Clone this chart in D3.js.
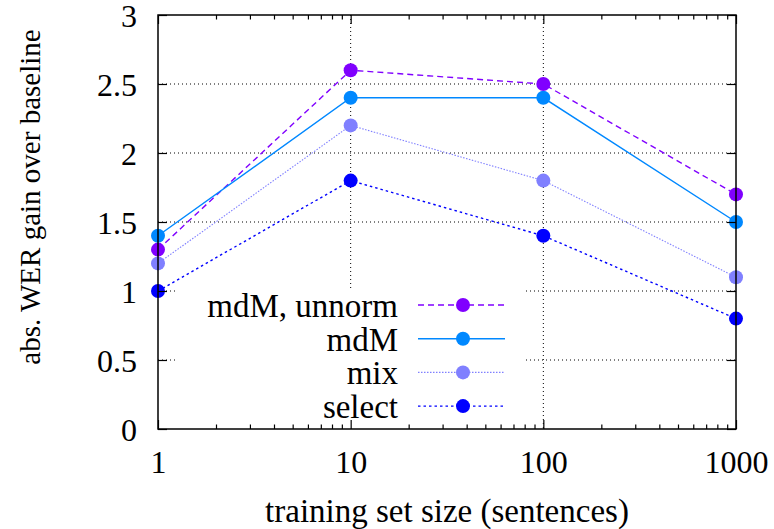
<!DOCTYPE html>
<html>
<head>
<meta charset="utf-8">
<script src="https://cdn.jsdelivr.net/npm/d3@7"></script>
<style>
  body { margin: 0; background: #fff; }
  .grid line { stroke: #000; stroke-width: 1; stroke-dasharray: 1,3; }
  .axis path { display: none; }
  .axis line { stroke: #000; stroke-width: 1.2; }
</style>
</head>
<body>
<div id="chart"></div>
<script>
var sizes = [1, 10, 100, 1000];
var seriesNames = ["mdM, unnorm", "mdM", "mix", "select"];
var unnorm = [1.3, 2.6, 2.5, 1.7];
var mdm = [1.4, 2.4, 2.4, 1.5];
var mix = [1.2, 2.2, 1.8, 1.1];
var select = [1.0, 1.8, 1.4, 0.8];
var yTicks = [0, 0.5, 1, 1.5, 2, 2.5, 3];
var xTicks = [1, 10, 100, 1000];

var w = 774, h = 529;
var plotLeft = 158, plotRight = 736, plotTop = 15, plotBottom = 429;
var serif = "'Liberation Serif'";

var colors = ["#8000ff", "#0088ff", "#8080ff", "#0000ff"];
var dashes = ["6,4", null, "1.5,1.5", "2.5,3"];
var widths = [1.4, 1.4, 1.1, 1.4];

var data = [unnorm, mdm, mix, select].map(function(vals, i) {
    return {name: seriesNames[i], values: vals.map(function(v, j) { return {x: sizes[j], y: v}; })};
});

var xScale = d3.scaleLog().domain([1, 1000]).range([plotLeft, plotRight]);
var yScale = d3.scaleLinear().domain([0, 3]).range([plotBottom, plotTop]);

var svg = d3.select("#chart").append("svg")
    .attr("width", w)
    .attr("height", h);

// gridlines
svg.append("g")
    .attr("class", "grid")
    .selectAll("line")
    .data(yTicks.filter(function(d) { return d > 0 && d < 3; }))
    .enter().append("line")
    .attr("x1", plotLeft).attr("x2", plotRight)
    .attr("y1", function(d) { return yScale(d); })
    .attr("y2", function(d) { return yScale(d); });

svg.append("g")
    .attr("class", "grid")
    .selectAll("line")
    .data([10, 100])
    .enter().append("line")
    .attr("y1", plotTop).attr("y2", plotBottom)
    .attr("x1", function(d) { return xScale(d); })
    .attr("x2", function(d) { return xScale(d); });

// series
var line = d3.line()
    .x(function(d) { return xScale(d.x); })
    .y(function(d) { return yScale(d.y); });

data.forEach(function(s, i) {
    svg.append("path")
        .datum(s.values)
        .attr("d", line)
        .attr("fill", "none")
        .attr("stroke", colors[i])
        .attr("stroke-width", widths[i])
        .attr("stroke-dasharray", dashes[i]);
});
data.forEach(function(s, i) {
    svg.selectAll(".pt" + i)
        .data(s.values)
        .enter().append("circle")
        .attr("class", "pt" + i)
        .attr("cx", function(d) { return xScale(d.x); })
        .attr("cy", function(d) { return yScale(d.y); })
        .attr("r", 7)
        .attr("fill", colors[i]);
});

// legend (opaque box)
svg.append("rect")
    .attr("x", 176).attr("y", 288)
    .attr("width", 350).attr("height", plotBottom - 288)
    .attr("fill", "#fff");

var legend = svg.append("g");
seriesNames.forEach(function(name, i) {
    var ly = 305 + i * 33.7;
    legend.append("text")
        .attr("x", 398).attr("y", ly + 12)
        .attr("text-anchor", "end")
        .style("font-family", serif)
        .style("font-size", "33px")
        .text(name);
    legend.append("line")
        .attr("x1", 418).attr("x2", 505)
        .attr("y1", ly).attr("y2", ly)
        .attr("stroke", colors[i])
        .attr("stroke-width", widths[i])
        .attr("stroke-dasharray", dashes[i]);
    legend.append("circle")
        .attr("cx", 463).attr("cy", ly).attr("r", 7)
        .attr("fill", colors[i]);
});

// axes
var minor = [];
[1, 10, 100].forEach(function(d) {
    for (var k = 2; k <= 9; k++) minor.push(d * k);
});

var xAxis = d3.axisBottom(xScale).tickValues(xTicks)
    .tickSizeInner(-9).tickSizeOuter(0).tickPadding(21)
    .tickFormat(d3.format("d"));
var xMinor = d3.axisBottom(xScale).tickValues(minor)
    .tickSizeInner(-4.5).tickSizeOuter(0).tickFormat("");
var xTop = d3.axisTop(xScale).tickValues(xTicks)
    .tickSizeInner(-9).tickSizeOuter(0).tickFormat("");
var xTopMinor = d3.axisTop(xScale).tickValues(minor)
    .tickSizeInner(-4.5).tickSizeOuter(0).tickFormat("");
var yAxis = d3.axisLeft(yScale).tickValues(yTicks)
    .tickSizeInner(-9).tickSizeOuter(0).tickPadding(21)
    .tickFormat(d3.format("~g"));
var yRight = d3.axisRight(yScale).tickValues(yTicks)
    .tickSizeInner(-9).tickSizeOuter(0).tickFormat("");

svg.append("g").attr("class", "axis")
    .attr("transform", "translate(0," + plotBottom + ")")
    .call(xAxis)
    .selectAll("text")
    .style("font-family", serif).style("font-size", "32px").attr("fill", "#000");
svg.append("g").attr("class", "axis")
    .attr("transform", "translate(0," + plotBottom + ")").call(xMinor);
svg.append("g").attr("class", "axis")
    .attr("transform", "translate(0," + plotTop + ")").call(xTop);
svg.append("g").attr("class", "axis")
    .attr("transform", "translate(0," + plotTop + ")").call(xTopMinor);
svg.append("g").attr("class", "axis")
    .attr("transform", "translate(" + plotLeft + ",0)")
    .call(yAxis)
    .selectAll("text")
    .style("font-family", serif).style("font-size", "32px")
    .attr("dy", "0.37em").attr("fill", "#000");
svg.append("g").attr("class", "axis")
    .attr("transform", "translate(" + plotRight + ",0)").call(yRight);

// border
svg.append("rect")
    .attr("x", plotLeft).attr("y", plotTop)
    .attr("width", plotRight - plotLeft).attr("height", plotBottom - plotTop)
    .attr("fill", "none")
    .attr("stroke", "#000")
    .attr("stroke-width", 1.5);

// axis titles
svg.append("text")
    .attr("x", (plotLeft + plotRight) / 2).attr("y", 522)
    .attr("text-anchor", "middle")
    .style("font-family", serif)
    .style("font-size", "33px")
    .text("training set size (sentences)");

svg.append("text")
    .attr("transform", "translate(40,197) rotate(-90)")
    .attr("text-anchor", "middle")
    .style("font-family", serif)
    .style("font-size", "29px")
    .text("abs. WER gain over baseline");
</script>
</body>
</html>
